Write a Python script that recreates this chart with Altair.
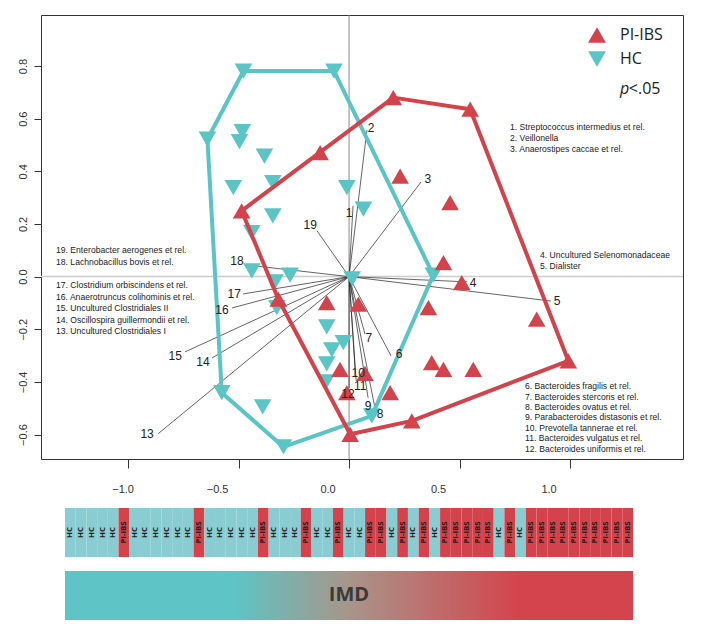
import altair as alt
import pandas as pd

# ---------------- data ----------------
hc_x = [-0.478, -0.068, -0.641, -0.483, -0.496, -0.383, -0.524, -0.345, -0.010, 0.065,
        -0.345, -0.440, -0.440, -0.335, -0.267, -0.327, 0.014, -0.101, -0.078, -0.026,
        -0.101, -0.104, -0.391, -0.576, -0.297, 0.103, 0.381]
hc_y = [0.781, 0.781, 0.522, 0.551, 0.513, 0.458, 0.338, 0.357, 0.338, 0.256,
        0.231, 0.167, 0.022, -0.020, 0.006, -0.118, -0.009, -0.191, -0.278, -0.251,
        -0.332, -0.400, -0.495, -0.441, -0.647, -0.529, 0.006]

pi_x = [-0.131, -0.486, 0.200, 0.548, 0.992, 0.284, 0.005, -0.320, 0.231, 0.457,
        0.427, 0.510, 0.359, 0.849, 0.374, 0.427, 0.562, 0.186, 0.042, -0.041,
        0.072, -0.010, -0.101]
pi_y = [0.471, 0.250, 0.680, 0.636, -0.320, -0.548, -0.599, -0.086, 0.382, 0.281,
        0.053, -0.023, -0.118, -0.162, -0.327, -0.352, -0.352, -0.441, -0.105, -0.352,
        -0.368, -0.441, -0.099]

vec_id = [str(i) for i in range(1, 20)]
vec_x = [0.018, 0.081, 0.326, 0.534, 0.914, 0.190, 0.072, 0.118, 0.086, 0.027,
         0.032, 0.000, -0.864, -0.620, -0.742, -0.529, -0.480, -0.462, -0.145]
vec_y = [0.269, 0.557, 0.360, -0.020, -0.093, -0.301, -0.218, -0.503, -0.460, -0.350,
         -0.396, -0.423, -0.597, -0.309, -0.286, -0.119, -0.066, 0.044, 0.174]
lab_x = [0.000, 0.100, 0.357, 0.561, 0.941, 0.226, 0.090, 0.140, 0.086, 0.041,
         0.050, -0.005, -0.914, -0.661, -0.787, -0.575, -0.520, -0.507, -0.176]
lab_y = [0.242, 0.565, 0.371, -0.024, -0.093, -0.294, -0.233, -0.522, -0.491, -0.365,
         -0.416, -0.445, -0.597, -0.324, -0.301, -0.127, -0.066, 0.060, 0.197]

x_ticks = [-1.0, -0.5, 0.0, 0.5, 1.0]
y_ticks = [-0.6, -0.4, -0.2, 0.0, 0.2, 0.4, 0.6, 0.8]

block_a = ["1. Streptococcus intermedius et rel.", "2. Veillonella",
           "3. Anaerostipes caccae et rel."]
block_b = ["4. Uncultured Selenomonadaceae", "5. Dialister"]
block_c = ["6. Bacteroides fragilis et rel.", "7. Bacteroides stercoris et rel.",
           "8. Bacteroides ovatus et rel.", "9. Parabacteroides distasonis et rel.",
           "10. Prevotella tannerae et rel.", "11. Bacteroides vulgatus et rel.",
           "12. Bacteroides uniformis et rel."]
block_d1 = ["19. Enterobacter aerogenes et rel.", "18. Lachnobacillus bovis et rel."]
block_d2 = ["17. Clostridium orbiscindens et rel.", "16. Anaerotruncus colihominis et rel.",
            "15. Uncultured Clostridiales II", "14. Oscillospira guillermondii et rel.",
            "13. Uncultured Clostridiales I"]

strip = (["HC"] * 5 + ["PI-IBS"] + ["HC"] * 6 + ["PI-IBS"] + ["HC"] * 5 + ["PI-IBS"]
         + ["HC"] * 3 + ["PI-IBS"] + ["HC", "HC"] + ["PI-IBS"] + ["HC"] * 2
         + ["PI-IBS"] * 2 + ["HC"] + ["PI-IBS"] + ["HC"] + ["PI-IBS"] + ["HC"]
         + ["PI-IBS"] * 5 + ["HC"] + ["PI-IBS"] + ["HC"] + ["PI-IBS"] * 10)

# ---------------- style ----------------
RED = "#D2434B"
TEAL = "#5BC4C4"
S_RED = "#D4434C"
S_TEAL = "#89CDD3"
FONT = "Liberation Sans"
HUM = "Open Sans"

xs = alt.Scale(domain=[-1.394, 1.511], nice=False, zero=False)
ys = alt.Scale(domain=[-0.693, 0.994], nice=False, zero=False)
xaxis = alt.Axis(values=x_ticks, grid=False, domain=False, labels=False,
                 tickSize=9, tickColor="#333", title=None)
yaxis = alt.Axis(values=y_ticks, format=".1f", grid=False,
                 domain=False, tickSize=7, tickColor="#333", labelFont=FONT, labelFontSize=11,
                 labelColor="#333", labelAngle=270, labelAlign="center",
                 labelBaseline="bottom", labelPadding=6, title=None)


def hull(px, py):
    P = sorted(zip(px, py))

    def cross(o, a, b):
        return (a[0] - o[0]) * (b[1] - o[1]) - (a[1] - o[1]) * (b[0] - o[0])
    lower, upper = [], []
    for p in P:
        while len(lower) >= 2 and cross(lower[-2], lower[-1], p) <= 0:
            lower.pop()
        lower.append(p)
    for p in reversed(P):
        while len(upper) >= 2 and cross(upper[-2], upper[-1], p) <= 0:
            upper.pop()
        upper.append(p)
    h = lower[:-1] + upper[:-1]
    h.append(h[0])
    return pd.DataFrame({"x": [p[0] for p in h], "y": [p[1] for p in h],
                         "o": list(range(len(h)))})


pts = pd.DataFrame({"x": hc_x + pi_x, "y": hc_y + pi_y,
                    "group": ["HC"] * len(hc_x) + ["PI-IBS"] * len(pi_x)})
vec = pd.DataFrame({"id": vec_id, "xe": vec_x, "ye": vec_y, "lx": lab_x, "ly": lab_y})
vec["x0"] = 0.0
vec["y0"] = 0.0

X = lambda f: alt.X(f, type="quantitative", scale=xs, axis=xaxis)
Y = lambda f: alt.Y(f, type="quantitative", scale=ys, axis=yaxis)

zero_v = alt.Chart(pd.DataFrame({"v": [0.0]})).mark_rule(color="#8a8a8a", strokeWidth=1).encode(x=X("v"))
zero_h = alt.Chart(pd.DataFrame({"v": [0.0]})).mark_rule(color="#cccccc", strokeWidth=1.5).encode(y=Y("v"))

vectors = alt.Chart(vec).mark_rule(color="#222", strokeWidth=0.7).encode(
    x=X("x0"), y=Y("y0"), x2="xe", y2="ye")

leg = alt.Legend(title=None, orient="none", legendX=547, legendY=11, symbolSize=320,
                 labelFont=HUM, labelFontSize=16, labelColor="#222", rowPadding=7,
                 labelOffset=14, padding=0, symbolStrokeWidth=0)
points = alt.Chart(pts).mark_point(filled=True, opacity=1, size=310).encode(
    x=X("x"), y=Y("y"),
    color=alt.Color("group:N", scale=alt.Scale(domain=["PI-IBS", "HC"], range=[RED, TEAL]), legend=leg),
    shape=alt.Shape("group:N", scale=alt.Scale(domain=["PI-IBS", "HC"],
                                               range=["triangle-up", "triangle-down"]), legend=leg),
)

hull_hc = alt.Chart(hull(hc_x, hc_y)).mark_line(color=TEAL, strokeWidth=4, strokeJoin="round").encode(
    x=X("x"), y=Y("y"), order="o:Q")
hull_pi = alt.Chart(hull(pi_x, pi_y)).mark_line(color=RED, strokeWidth=4, strokeJoin="round").encode(
    x=X("x"), y=Y("y"), order="o:Q")

nums = alt.Chart(vec).mark_text(font=FONT, fontSize=12, color="#222").encode(
    x=X("lx"), y=Y("ly"), text="id:N")

# x tick labels (drawn as text so they can sit left of their ticks like the original)
xt = pd.DataFrame({"v": x_ticks})
xlab_first = alt.Chart(xt[xt["v"] < -0.75]).mark_text(
    font=FONT, fontSize=11, color="#333", baseline="middle", dy=31, dx=-5, clip=False).encode(
    x=X("v"), y=alt.datum(-0.693, scale=ys), text=alt.Text("v:Q", format=".1f"))
xlab_rest = alt.Chart(xt[xt["v"] > -0.75]).mark_text(
    font=FONT, fontSize=11, color="#333", baseline="middle", dy=31, dx=-21, clip=False).encode(
    x=X("v"), y=alt.datum(-0.693, scale=ys), text=alt.Text("v:Q", format=".1f"))


def block(lines, x, y, lh):
    return alt.Chart(pd.DataFrame({"t": ["\n".join(lines)]})).mark_text(
        font=FONT, fontSize=8.6, color="#222", align="left", baseline="top",
        lineBreak="\n", lineHeight=lh).encode(x=alt.datum(x, scale=xs), y=alt.datum(y, scale=ys), text="t:N")


blocks = [block(block_a, 0.7285, 0.583, 10.8), block(block_b, 0.864, 0.0956, 11),
          block(block_c, 0.796, -0.401, 10.4), block(block_d1, -1.326, 0.1146, 11.5),
          block(block_d2, -1.326, -0.0183, 11.4)]

p_txt = alt.Chart(pd.DataFrame({"t": ["p"]})).mark_text(
    font=HUM, fontSize=16, fontStyle="italic", color="#222", align="left", baseline="middle").encode(
    x=alt.datum(1.226, scale=xs), y=alt.datum(0.712, scale=ys), text="t:N")
p_txt2 = alt.Chart(pd.DataFrame({"t": ["<.05"]})).mark_text(
    font=HUM, fontSize=16, color="#222", align="left", baseline="middle").encode(
    x=alt.datum(1.266, scale=xs), y=alt.datum(0.712, scale=ys), text="t:N")

scatter = alt.layer(zero_v, zero_h, vectors, points, hull_hc, hull_pi, nums, *blocks,
                    p_txt, p_txt2, xlab_first, xlab_rest).properties(
    width=642, height=444, view=alt.ViewBackground(stroke="#333", strokeWidth=1))

# ---------------- strip ----------------
sd = pd.DataFrame({"g": strip})
sd["i"] = range(len(strip))
sd["i2"] = sd["i"] + 1
sd["ic"] = sd["i"] + 0.5
sd["row"] = "grp"
n = len(strip)
sx = alt.Scale(domain=[-2.239, n + 4.665], nice=False, zero=False)
sy = alt.Scale(domain=["grp", "imd"], paddingInner=0.222, paddingOuter=0)

cells = alt.Chart(sd).mark_rect().encode(
    x=alt.X("i:Q", scale=sx, axis=None), x2="i2",
    y=alt.Y("row:N", scale=sy, axis=None),
    color=alt.Color("g:N", scale=alt.Scale(domain=["HC", "PI-IBS"], range=[S_TEAL, S_RED]), legend=None))
cell_txt = alt.Chart(sd).mark_text(font=HUM, fontWeight="bold", fontSize=7.8, angle=270,
                                   color="#1a1a1a", align="center", baseline="middle").encode(
    x=alt.X("ic:Q", scale=sx, axis=None), y=alt.Y("row:N", scale=sy, axis=None), text="g:N")

imd = pd.DataFrame({"row": ["imd"], "a": [0], "b": [n], "c": [n / 2], "t": ["IMD"]})
grad = alt.Gradient(gradient="linear", x1=0, x2=1, y1=0, y2=0, stops=[
    alt.GradientStop(color="#5EC4C5", offset=0), alt.GradientStop(color="#5EC4C5", offset=0.3),
    alt.GradientStop(color="#A8958A", offset=0.5), alt.GradientStop(color="#D4444C", offset=0.8),
    alt.GradientStop(color="#D4444C", offset=1)])
imd_bar = alt.Chart(imd).mark_rect(fill=grad).encode(
    x=alt.X("a:Q", scale=sx, axis=None), x2="b", y=alt.Y("row:N", scale=sy, axis=None))
imd_txt = alt.Chart(imd).mark_text(font=HUM, fontWeight="bold", fontSize=20, color="#3a3a3a").encode(
    x=alt.X("c:Q", scale=sx, axis=None), y=alt.Y("row:N", scale=sy, axis=None), text="t:N")

bottom = alt.layer(cells, cell_txt, imd_bar, imd_txt).properties(
    width=642, height=112, view=alt.ViewBackground(stroke=None))

chart = alt.vconcat(scatter, bottom, spacing=12).resolve_scale(
    color="independent", shape="independent", x="independent", y="independent").properties(
    padding={"left": 8, "top": 6, "right": 5, "bottom": 5})

chart.save("out.html", embed_options={"renderer": "svg", "actions": False})
